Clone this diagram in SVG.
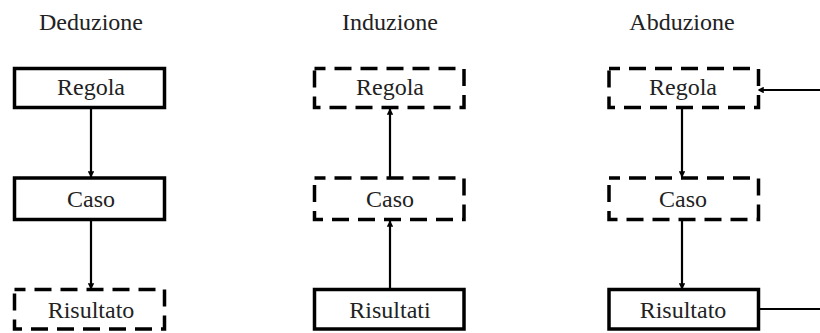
<svg xmlns="http://www.w3.org/2000/svg" width="820" height="333" viewBox="0 0 820 333">
<style>
text{font-family:"Liberation Serif","Times New Roman",serif;font-size:24px;fill:#222;text-anchor:middle}
.box{fill:#fff;stroke:#000;stroke-width:3.5}
.dash{stroke-dasharray:17 9;stroke-dashoffset:6}
.con{stroke:#000;stroke-width:2.2;fill:none}
</style>
<defs>
<marker id="ah" viewBox="0 0 8 8" refX="7" refY="4" markerWidth="3" markerHeight="3" orient="auto" markerUnits="strokeWidth">
<path d="M0,0 L8,4 L0,8 z" fill="#000"/>
</marker>
</defs>
<text x="91" y="30">Deduzione</text>
<text x="390" y="30">Induzione</text>
<text x="682" y="30">Abduzione</text>
<g id="connectors">
<line class="con" x1="91" y1="109" x2="91" y2="177" marker-end="url(#ah)"/>
<line class="con" x1="91" y1="221" x2="91" y2="289" marker-end="url(#ah)"/>
<line class="con" x1="390" y1="177" x2="390" y2="109" marker-end="url(#ah)"/>
<line class="con" x1="390" y1="289" x2="390" y2="221" marker-end="url(#ah)"/>
<line class="con" x1="682" y1="109" x2="682" y2="177" marker-end="url(#ah)"/>
<line class="con" x1="682" y1="221" x2="682" y2="289" marker-end="url(#ah)"/>
<line class="con" x1="820" y1="90" x2="758" y2="90" marker-end="url(#ah)"/>
<line class="con" x1="760" y1="309" x2="820" y2="309"/>
</g>
<g id="ded-regola"><rect class="box" x="14.5" y="68.5" width="150" height="39"/><text x="91" y="95">Regola</text></g>
<g id="ded-caso"><rect class="box" x="14.5" y="178" width="150" height="41.5"/><text x="91" y="207">Caso</text></g>
<g id="ded-risultato"><rect class="box dash" x="14.5" y="289.5" width="150" height="39.5"/><text x="91" y="318">Risultato</text></g>
<g id="ind-regola"><rect class="box dash" x="314.5" y="68.5" width="149.5" height="39"/><text x="390" y="95">Regola</text></g>
<g id="ind-caso"><rect class="box dash" x="314.5" y="178" width="149.5" height="41.5"/><text x="390" y="207">Caso</text></g>
<g id="ind-risultati"><rect class="box" x="314.5" y="289.5" width="149.5" height="39.5"/><text x="390" y="318">Risultati</text></g>
<g id="abd-regola"><rect class="box dash" x="609" y="68.5" width="149.5" height="39"/><text x="683" y="95">Regola</text></g>
<g id="abd-caso"><rect class="box dash" x="609" y="178" width="149.5" height="41.5"/><text x="683" y="207">Caso</text></g>
<g id="abd-risultato"><rect class="box" x="609" y="289.5" width="149.5" height="39.5"/><text x="683" y="318">Risultato</text></g>
</svg>
